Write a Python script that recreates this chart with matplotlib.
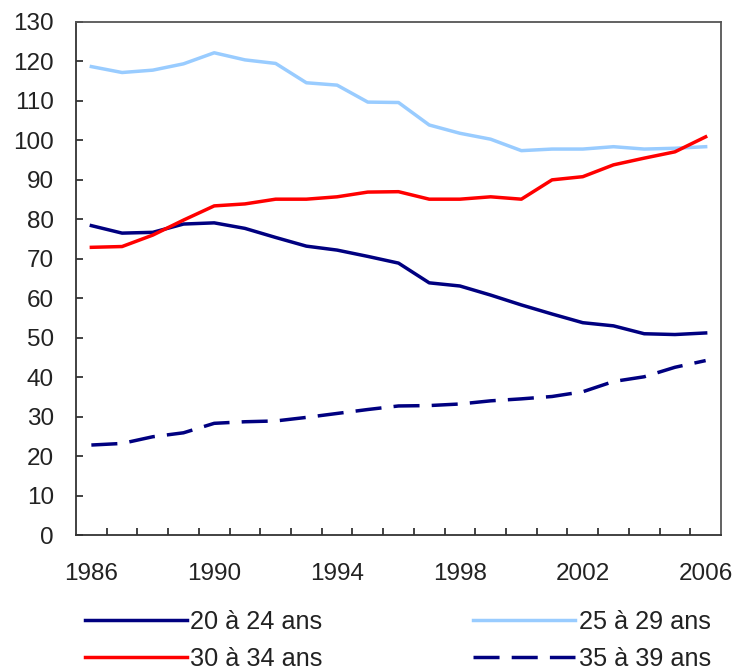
import matplotlib
matplotlib.use("Agg")
import matplotlib.pyplot as plt
import numpy as np

years = list(range(1986, 2007))
ages_20_24 = [78.4, 76.5, 76.7, 78.8, 79.1, 77.7, 75.4, 73.2, 72.2, 70.6, 68.9, 63.9,
              63.1, 60.8, 58.3, 56.0, 53.8, 53.0, 51.0, 50.8, 51.2]
ages_25_29 = [118.7, 117.2, 117.8, 119.4, 122.2, 120.4, 119.5, 114.6, 114.0, 109.7, 109.6, 103.9,
              101.8, 100.3, 97.4, 97.8, 97.8, 98.4, 97.8, 98.0, 98.4]
ages_30_34 = [72.9, 73.1, 76.0, 79.8, 83.4, 83.9, 85.1, 85.1, 85.7, 86.9, 87.0, 85.1,
              85.1, 85.7, 85.1, 90.0, 90.8, 93.8, 95.5, 97.1, 100.9]
ages_35_39 = [22.8, 23.2, 24.9, 25.9, 28.3, 28.7, 28.9, 29.8, 30.8, 31.8, 32.7, 32.8,
              33.2, 34.0, 34.5, 35.1, 36.3, 38.9, 40.1, 42.5, 44.2]
labels = ["20 à 24 ans", "25 à 29 ans", "30 à 34 ans", "35 à 39 ans"]
year_ticks = [1986, 1990, 1994, 1998, 2002, 2006]
y_ticks = list(range(0, 131, 10))

plt.rcParams['font.family'] = ['Liberation Sans', 'DejaVu Sans']
NAVY = "#000080"
LIGHT = "#99CCFF"
RED = "#FF0000"
TXT = "#222222"
FS = 17.5
LFS = 18.2

fig = plt.figure(figsize=(7.4, 6.72), dpi=100)
ax = fig.add_axes([76/740, 1-535/672, (721-76)/740, (535-22)/672])

lw = 2.5
l1, = ax.plot(years, ages_20_24, color=NAVY, lw=lw, label=labels[0])
l2, = ax.plot(years, ages_25_29, color=LIGHT, lw=lw, label=labels[1])
l3, = ax.plot(years, ages_30_34, color=RED, lw=lw, label=labels[2])
l4, = ax.plot(years, ages_35_39, color=NAVY, lw=lw, linestyle=(0, (7.5, 3.5)), label=labels[3])

ax.set_xlim(years[0] - 0.5, years[-1] + 0.5)
ax.set_ylim(0, 130)
ax.set_yticks(y_ticks)
ax.set_xticks(year_ticks)
ax.set_xticks([y + 0.5 for y in years[:-1]], minor=True)
ax.tick_params(axis='x', which='major', length=0, pad=20, labelsize=FS, labelcolor=TXT)
ax.tick_params(axis='x', which='minor', direction='in', length=5, width=1.2, color="#222222")
ax.tick_params(axis='y', direction='in', length=5, width=1.2, pad=16, labelsize=FS,
               labelcolor=TXT, color="#222222")
for s in ax.spines.values():
    s.set_linewidth(1.3)
    s.set_color("#333333")
ax.spines['right'].set_color("#555555")
ax.spines['top'].set_color("#555555")

leg = fig.legend(handles=[l1, l3, l2, l4], labels=[labels[0], labels[2], labels[1], labels[3]],
                 ncol=2, loc='upper left', bbox_to_anchor=(85/740, 1 - 610/672),
                 frameon=False, fontsize=LFS, handlelength=4.02, handletextpad=0.15,
                 columnspacing=5.95, labelspacing=0.5, borderpad=0, borderaxespad=0)
for t in leg.get_texts():
    t.set_color(TXT)

fig.savefig("out.png", dpi=100)
